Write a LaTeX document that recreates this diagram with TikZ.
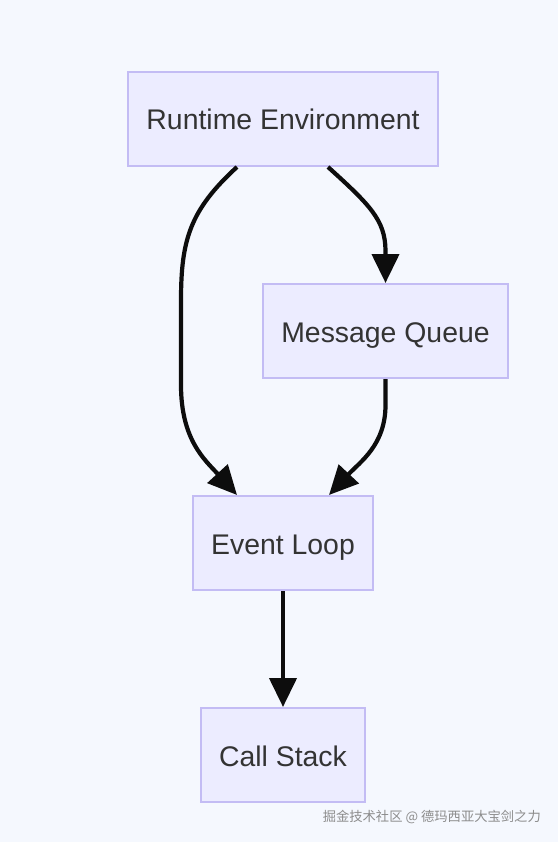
\documentclass[tikz,border=0pt]{standalone}
\usepackage{fontspec}
\setmainfont{Liberation Sans}
\newfontfamily\cjk{Noto Sans CJK SC}
\usetikzlibrary{arrows.meta}
\definecolor{bgc}{HTML}{F5F8FE}
\definecolor{boxfill}{HTML}{ECECFF}
\definecolor{boxdraw}{HTML}{C3BCF4}
\definecolor{txt}{HTML}{333333}
\definecolor{wm}{HTML}{8C8C8C}
\tikzset{
  box/.style={draw=boxdraw, fill=boxfill, line width=2pt, inner sep=0pt,
    minimum height=94pt, text=txt, font=\fontsize{28.4}{34}\selectfont,
    text height=24pt, text depth=2pt},
  link/.style={line width=4.2pt, draw=black!95, -{Triangle[length=29pt,width=27pt]}},
}
\begin{document}
\begin{tikzpicture}[x=1pt,y=-1pt]
\fill[bgc] (0,0) rectangle (558,842);
\useasboundingbox (0,0) rectangle (558,842);
\node[box, minimum width=310pt] (rt) at (283,119) {Runtime Environment};
\node[box, minimum width=245pt] (mq) at (385.5,331) {Message Queue};
\node[box, minimum width=180pt] (el) at (283,543) {Event Loop};
\node[box, minimum width=164pt] (cs) at (283,755) {Call Stack};
\draw[link] ([xshift=-46pt]rt.south) .. controls (190,210) and (181,240) .. (181,300)
  -- (181,385) .. controls (181,440) and (205,460) .. ([xshift=-46pt]el.north);
\draw[link] ([xshift=45pt]rt.south) .. controls (370,205) and (385,220) .. (385.5,250) -- (mq.north);
\draw[link] (mq.south) -- (385.5,405) .. controls (385.5,445) and (360,462) .. ([xshift=46pt]el.north);
\draw[link] (el.south) -- (cs.north);
\node[anchor=east, text=wm, font=\cjk\fontsize{13.3}{16}\selectfont, inner sep=0pt] (wmk) at (541,817) {掘金技术社区 @ 德玛西亚大宝剑之力};
\end{tikzpicture}
\end{document}
